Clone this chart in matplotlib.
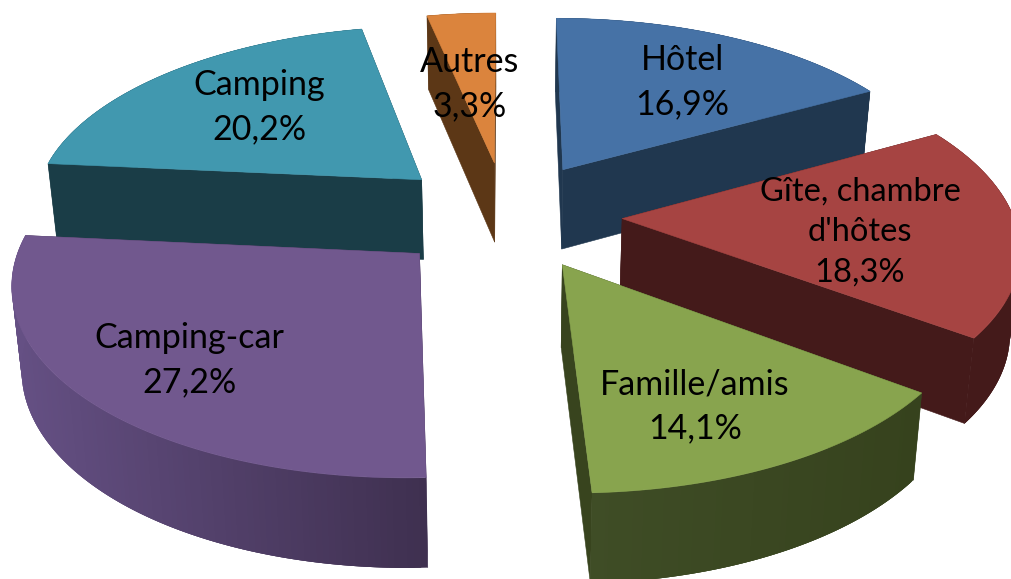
import numpy as np
import matplotlib
matplotlib.use("Agg")
import matplotlib.pyplot as plt
from matplotlib.colors import to_rgb

categories = ["Hôtel", "Gîte, chambre\nd'hôtes", "Famille/amis", "Camping-car", "Camping", "Autres"]
values = [16.9, 18.3, 14.1, 27.2, 20.2, 3.3]

top_colors = ["#4672a6", "#a64442", "#88a44e", "#71588e", "#4198af", "#db843d"]
wall_colors = ["#20374f", "#441a1a", "#38441e", "#3f3050", "#1a3d47", "#5c3716"]
arc_left = ["#20374f", "#441a1a", "#3f4d26", "#655084", "#1a3d47", "#5c3716"]
arc_right = ["#20374f", "#441a1a", "#36421d", "#3f3050", "#1a3d47", "#5c3716"]
label_pos = [(682, 82), (860, 232), (695, 406), (189, 360), (259, 107), (470, 84)]
label_size = [24.5, 23.5, 24.5, 24.5, 24.5, 24.5]

CX, CY, R, TILT, PERSP, EXPLODE, DEPTH, ZSCALE = 506, 215, 391, 0.468, 0.134, 0.297, 81, 0.98


def project(X, Y, z=0.0):
    """Plane coordinates (radius 1) to picture pixels; z=1 is the bottom face."""
    X, Y = np.asarray(X, float), np.asarray(Y, float)
    s = 1.0 / (1.0 + PERSP * Y)
    zs = 1.0 - (1.0 - ZSCALE) * z
    return CX + R * X * s * zs, CY - R * TILT * Y * s + DEPTH * s ** 0.6 * z


fig = plt.figure(figsize=(10.11, 5.79), dpi=100)
ax = fig.add_axes([0, 0, 1, 1])
ax.set_xlim(0, 1011)
ax.set_ylim(579, 0)
ax.axis("off")


def fill(xs, ys, color, zorder, lw=0.4):
    ax.fill(xs, ys, facecolor=color, edgecolor=color if lw else "none", linewidth=lw, zorder=zorder)


total = sum(values)
edges = np.concatenate([[0], np.cumsum(values)]) / total * 2 * np.pi
mids = (edges[:-1] + edges[1:]) / 2
# slices are painted from the farthest to the nearest
order = np.argsort(-np.cos(mids))

for rank, i in enumerate(order):
    base = 10 + rank * 10
    ox, oy = EXPLODE * np.sin(mids[i]), EXPLODE * np.cos(mids[i])
    th = np.linspace(edges[i], edges[i + 1], 120)
    ax_x, ax_y = ox + np.sin(th), oy + np.cos(th)

    # straight walls from the apex to the rim
    for th_edge in (edges[i], edges[i + 1]):
        ex, ey = ox + np.sin(th_edge), oy + np.cos(th_edge)
        x0, y0 = project([ox, ex], [oy, ey], 0)
        x1, y1 = project([ex, ox], [ey, oy], 1)
        fill(np.r_[x0, x1], np.r_[y0, y1], wall_colors[i], base)

    # curved wall, shaded in strips along the rim; each strip overlaps the next
    tx, ty = project(ax_x, ax_y, 0)
    bx, by = project(ax_x, ax_y, 1)
    xmin, xmax = tx.min(), tx.max()
    cl, cr = np.array(to_rgb(arc_left[i])), np.array(to_rgb(arc_right[i]))
    fracs = (tx - xmin) / max(xmax - xmin, 1)
    n = len(th)
    for k in range(n - 1):
        j = np.arange(k, min(k + 4, n))
        col = tuple(cl + (cr - cl) * fracs[k])
        fill(np.r_[tx[j], bx[j][::-1]], np.r_[ty[j], by[j][::-1]], col, base + 1, lw=0)

    # top face
    px, py = project(np.r_[ox, ax_x], np.r_[oy, ax_y], 0)
    fill(px, py, top_colors[i], base + 2)

for cat, val, (x, y), size in zip(categories, values, label_pos, label_size):
    ax.text(x, y, f"{cat}\n{val:.1f}%".replace(".", ","), ha="center", va="center",
            fontsize=size, family="Lato", color="black", linespacing=1.45, zorder=200)

fig.savefig("out.png", dpi=100)
